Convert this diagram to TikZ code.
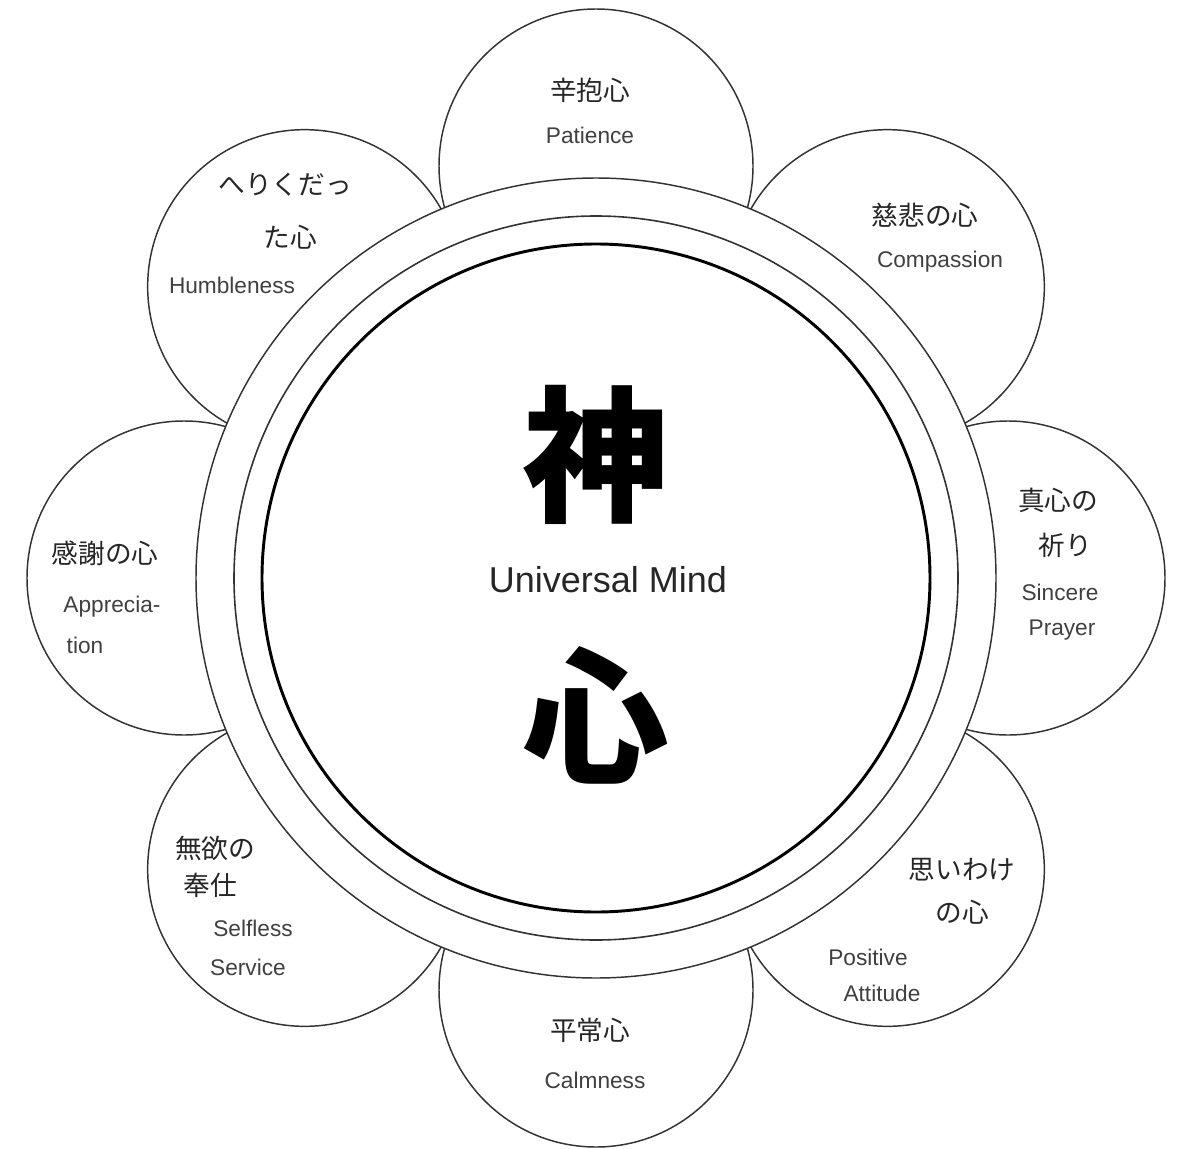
\documentclass[tikz,border=0pt]{standalone}
\usetikzlibrary{calc}
\usepackage{fontspec}
\setmainfont{Liberation Sans}
\newfontfamily\jp{Noto Sans CJK JP}
\begin{document}
\begin{tikzpicture}[x=0.75pt,y=-0.75pt,
 petal/.style={draw=black!80,line width=1.1pt,fill=white},
 jt/.style={font=\jp\fontsize{20}{22}\selectfont,text=black!85},
 et/.style={font=\fontsize{17}{19}\selectfont,text=black!75}]
\useasboundingbox (0,0) rectangle (1196,1149);
\coordinate (c) at (596,578);
\foreach \a in {0,45,...,315}{
 \path[petal] ($(c)+(\a:412)$) circle (157);
}
\path[petal] (c) circle (400);
\draw[black!80,line width=1.2pt] (c) circle (362);
\draw[black,line width=2.2pt] (c) circle (334);
\node[font=\jp\bfseries\fontsize{110}{110}\selectfont] (shin) at (596,455) {神};
\node[font=\fontsize{27}{30}\selectfont,text=black!85] (um) at (608,580) {Universal Mind};
\node[font=\jp\bfseries\fontsize{110}{110}\selectfont] (kokoro) at (596,715) {心};
\node[jt] (p1) at (590,90) {辛抱心};
\node[et] (p2) at (590,135) {Patience};
\node[jt] (c1) at (925,215) {慈悲の心};
\node[et] (c2) at (940,262) {Compassion};
\node[jt] (s1) at (1058,500) {真心の};
\node[jt] (s2) at (1065,545) {祈り};
\node[et] (s3) at (1060,592) {Sincere};
\node[et] (s4) at (1062,630) {Prayer};
\node[jt] (a1) at (962,870) {思いわけ};
\node[jt] (a2) at (962,912) {の心};
\node[et] (a3) at (868,957) {Positive};
\node[et] (a4) at (882,993) {Attitude};
\node[jt] (m1) at (590,1030) {平常心};
\node[et] (m2) at (595,1080) {Calmness};
\node[jt] (f1) at (215,848) {無欲の};
\node[jt] (f2) at (210,885) {奉仕};
\node[et] (f3) at (253,928) {Selfless};
\node[et] (f4) at (248,967) {Service};
\node[jt] (r1) at (105,553) {感謝の心};
\node[et] (r2) at (112,607) {Apprecia-};
\node[et] (r3) at (85,645) {tion};
\node[jt] (h1) at (285,185) {へりくだっ};
\node[jt] (h2) at (290,237) {た心};
\node[et] (h3) at (232,285) {Humbleness};
\end{tikzpicture}
\end{document}
